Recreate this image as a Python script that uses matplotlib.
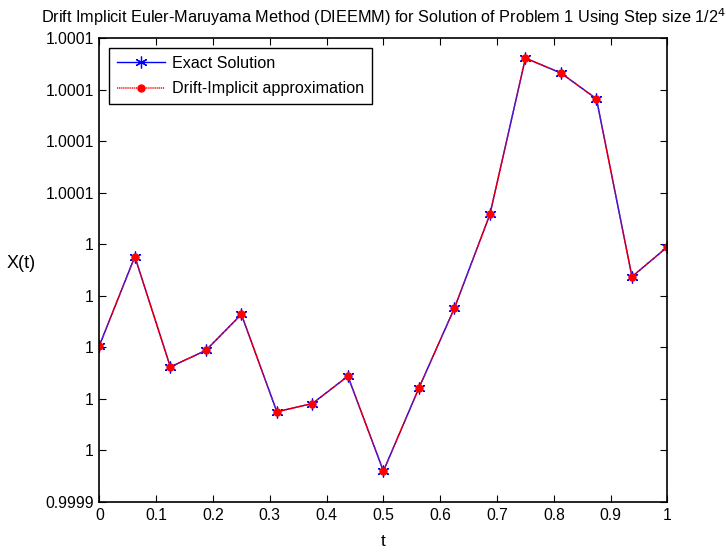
import matplotlib
matplotlib.use("Agg")
import matplotlib.pyplot as plt
from matplotlib.ticker import FixedLocator, FixedFormatter

plt.rcParams['font.family'] = ['Liberation Sans', 'DejaVu Sans']
plt.rcParams['lines.scale_dashes'] = False

t = [0.0, 0.0625, 0.125, 0.1875, 0.25, 0.3125, 0.375, 0.4375, 0.5,
     0.5625, 0.625, 0.6875, 0.75, 0.8125, 0.875, 0.9375, 1.0]
x_exact = [1.0000006, 1.0000352, 0.9999924, 0.9999988, 1.0000128, 0.9999750,
           0.9999782, 0.9999888, 0.9999520, 0.9999842, 1.0000152, 1.0000516,
           1.0001122, 1.0001064, 1.0000964, 1.0000274, 1.0000390]
x_approx = [1.0000006, 1.0000352, 0.9999924, 0.9999988, 1.0000128, 0.9999750,
            0.9999782, 0.9999888, 0.9999520, 0.9999842, 1.0000152, 1.0000516,
            1.0001122, 1.0001064, 1.0000964, 1.0000274, 1.0000390]

xtick_vals = [0, 0.1, 0.2, 0.3, 0.4, 0.5, 0.6, 0.7, 0.8, 0.9, 1]
xtick_labels = ['0', '0.1', '0.2', '0.3', '0.4', '0.5', '0.6', '0.7', '0.8', '0.9', '1']
ytick_vals = [0.99994, 0.99996, 0.99998, 1.00000, 1.00002, 1.00004,
              1.00006, 1.00008, 1.00010, 1.00012]
ytick_labels = ['0.9999', '1', '1', '1', '1', '1', '1.0001', '1.0001', '1.0001', '1.0001']

fig = plt.figure(figsize=(7.26, 5.54), dpi=100)
ax = fig.add_axes([0.1368, 0.0939, 0.7826, 0.8375])

ax.plot(t, x_exact, color='blue', linestyle='-', linewidth=1.0,
        marker=(6, 2, 0), markersize=8.5, markeredgecolor='blue',
        markeredgewidth=0.9, label='Exact Solution')
ax.plot(t, x_approx, color='red', linestyle=(0, (0.9, 0.6)), linewidth=1.1,
        marker='o', markersize=5, markerfacecolor='red', markeredgecolor='red',
        label='Drift-Implicit approximation')

ax.set_xlim(0, 1)
ax.set_ylim(ytick_vals[0], ytick_vals[-1])
ax.xaxis.set_major_locator(FixedLocator(xtick_vals))
ax.xaxis.set_major_formatter(FixedFormatter(xtick_labels))
ax.yaxis.set_major_locator(FixedLocator(ytick_vals))
ax.yaxis.set_major_formatter(FixedFormatter(ytick_labels))
ax.tick_params(direction='in', top=True, right=True, length=5, width=0.8,
               labelsize=11.3, pad=4)
for s in ax.spines.values():
    s.set_linewidth(1.2)

ax.set_title('Drift Implicit Euler-Maruyama Method (DIEEMM) for Solution of Problem 1 Using Step size 1/2$^4$',
             fontsize=11.7, pad=11)
ax.set_xlabel('t', fontsize=12.5, labelpad=8)
ax.set_ylabel('X(t)', fontsize=13, rotation=0, ha='center', va='center')
ax.yaxis.set_label_coords(-0.138, 0.515)

leg = ax.legend(loc='upper left', fontsize=11.6, frameon=True, fancybox=False,
                edgecolor='black', framealpha=1, handlelength=3.0,
                handletextpad=0.4, borderaxespad=0.6, labelspacing=0.65,
                borderpad=0.5)
leg.get_frame().set_linewidth(1.0)

fig.savefig('out.png', dpi=100)
